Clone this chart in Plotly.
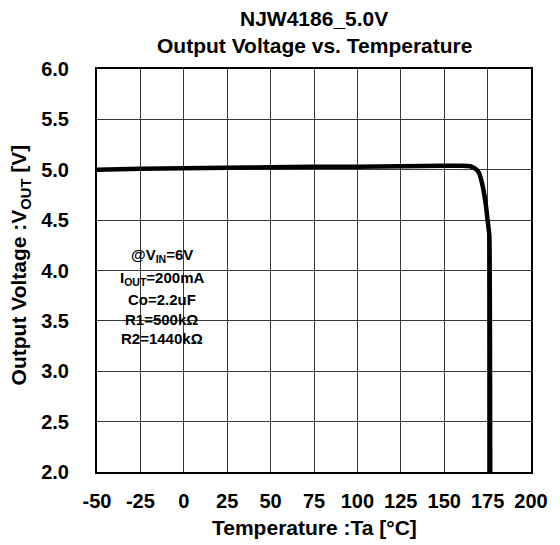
import plotly.graph_objects as go

# Data
temperature = [-50, -25, 0, 25, 50, 75, 100, 125, 150, 160, 165, 168, 170, 172, 174, 175, 176, 176.5]
vout = [5.00, 5.01, 5.015, 5.02, 5.025, 5.03, 5.03, 5.035, 5.04, 5.04, 5.035, 5.01, 4.97, 4.85, 4.65, 4.5, 4.35, 2.0]

x_ticks = [-50, -25, 0, 25, 50, 75, 100, 125, 150, 175, 200]
y_ticks = [2.0, 2.5, 3.0, 3.5, 4.0, 4.5, 5.0, 5.5, 6.0]

cond_lines = [
    "@V<sub>IN</sub>=6V",
    "I<sub>OUT</sub>=200mA",
    "Co=2.2uF",
    "R1=500kΩ",
    "R2=1440kΩ",
]
cond_y = [4.15, 3.92, 3.71, 3.515, 3.325]

FONT = "Liberation Sans, Arial, sans-serif"

# page body adds an 8px offset; figure coordinates = screen coordinates - 8
OFF = 8
W, H = 560 - OFF, 545 - OFF
L, R, T, B = 97 - OFF, 539 - OFF, 69 - OFF, 472 - OFF
PW, PH = R - L, B - T

def py(p):
    return (B - (p - OFF)) / PH

def px(p):
    return ((p - OFF) - L) / PW

fig = go.Figure()
fig.add_trace(go.Scatter(
    x=temperature, y=vout, mode="lines",
    line=dict(color="black", width=4.5, shape="spline", smoothing=0.3),
    showlegend=False,
))

# white box behind conditions
fig.add_shape(type="rect", xref="x", yref="y", x0=-41.5, x1=14, y0=3.26, y1=4.33,
              fillcolor="white", line=dict(width=0), layer="below")

for t, yy in zip(cond_lines, cond_y):
    fig.add_annotation(x=-12.7, y=yy, xref="x", yref="y", text="<b>" + t + "</b>",
                       showarrow=False, font=dict(family=FONT, size=15, color="black"))

fig.add_annotation(x=0.5, y=py(19), xref="paper", yref="paper",
                   text="<b>NJW4186_5.0V</b>", showarrow=False,
                   font=dict(family=FONT, size=21, color="black"), yanchor="middle")
fig.add_annotation(x=0.5, y=py(45), xref="paper", yref="paper",
                   text="<b>Output Voltage vs. Temperature</b>", showarrow=False,
                   font=dict(family=FONT, size=21, color="black"), yanchor="middle")

# axis titles
fig.add_annotation(x=0.5, y=py(527), xref="paper", yref="paper",
                   text="<b>Temperature :Ta [°C]</b>", showarrow=False,
                   font=dict(family=FONT, size=21, color="black"), yanchor="middle")
fig.add_annotation(x=px(19), y=py(265), xref="paper", yref="paper",
                   text="<b>Output Voltage :V<sub>OUT</sub> [V]</b>", showarrow=False,
                   textangle=-90, xanchor="center", yanchor="middle",
                   font=dict(family=FONT, size=21, color="black"))

fig.update_layout(
    width=W, height=H,
    margin=dict(l=L, r=W - R, t=T, b=H - B),
    paper_bgcolor="white", plot_bgcolor="white",
    font=dict(family=FONT, size=20, color="black"),
)
fig.update_xaxes(
    range=[-50, 200], tickvals=x_ticks, ticktext=[f"<b>{v}</b>" for v in x_ticks],
    showgrid=True, gridcolor="#3a3a3a", gridwidth=1.3,
    showline=True, linecolor="black", linewidth=2, mirror=True,
    ticks="", ticklabelstandoff=10, zeroline=False,
    tickfont=dict(family=FONT, size=20),
)
fig.update_yaxes(
    range=[2, 6], tickvals=y_ticks, ticktext=[f"<b>{v:.1f}</b>" for v in y_ticks],
    showgrid=True, gridcolor="#3a3a3a", gridwidth=1.3,
    showline=True, linecolor="black", linewidth=2, mirror=True,
    ticks="", ticklabelstandoff=22, zeroline=False,
    tickfont=dict(family=FONT, size=20),
)

fig.write_html("out.html")
